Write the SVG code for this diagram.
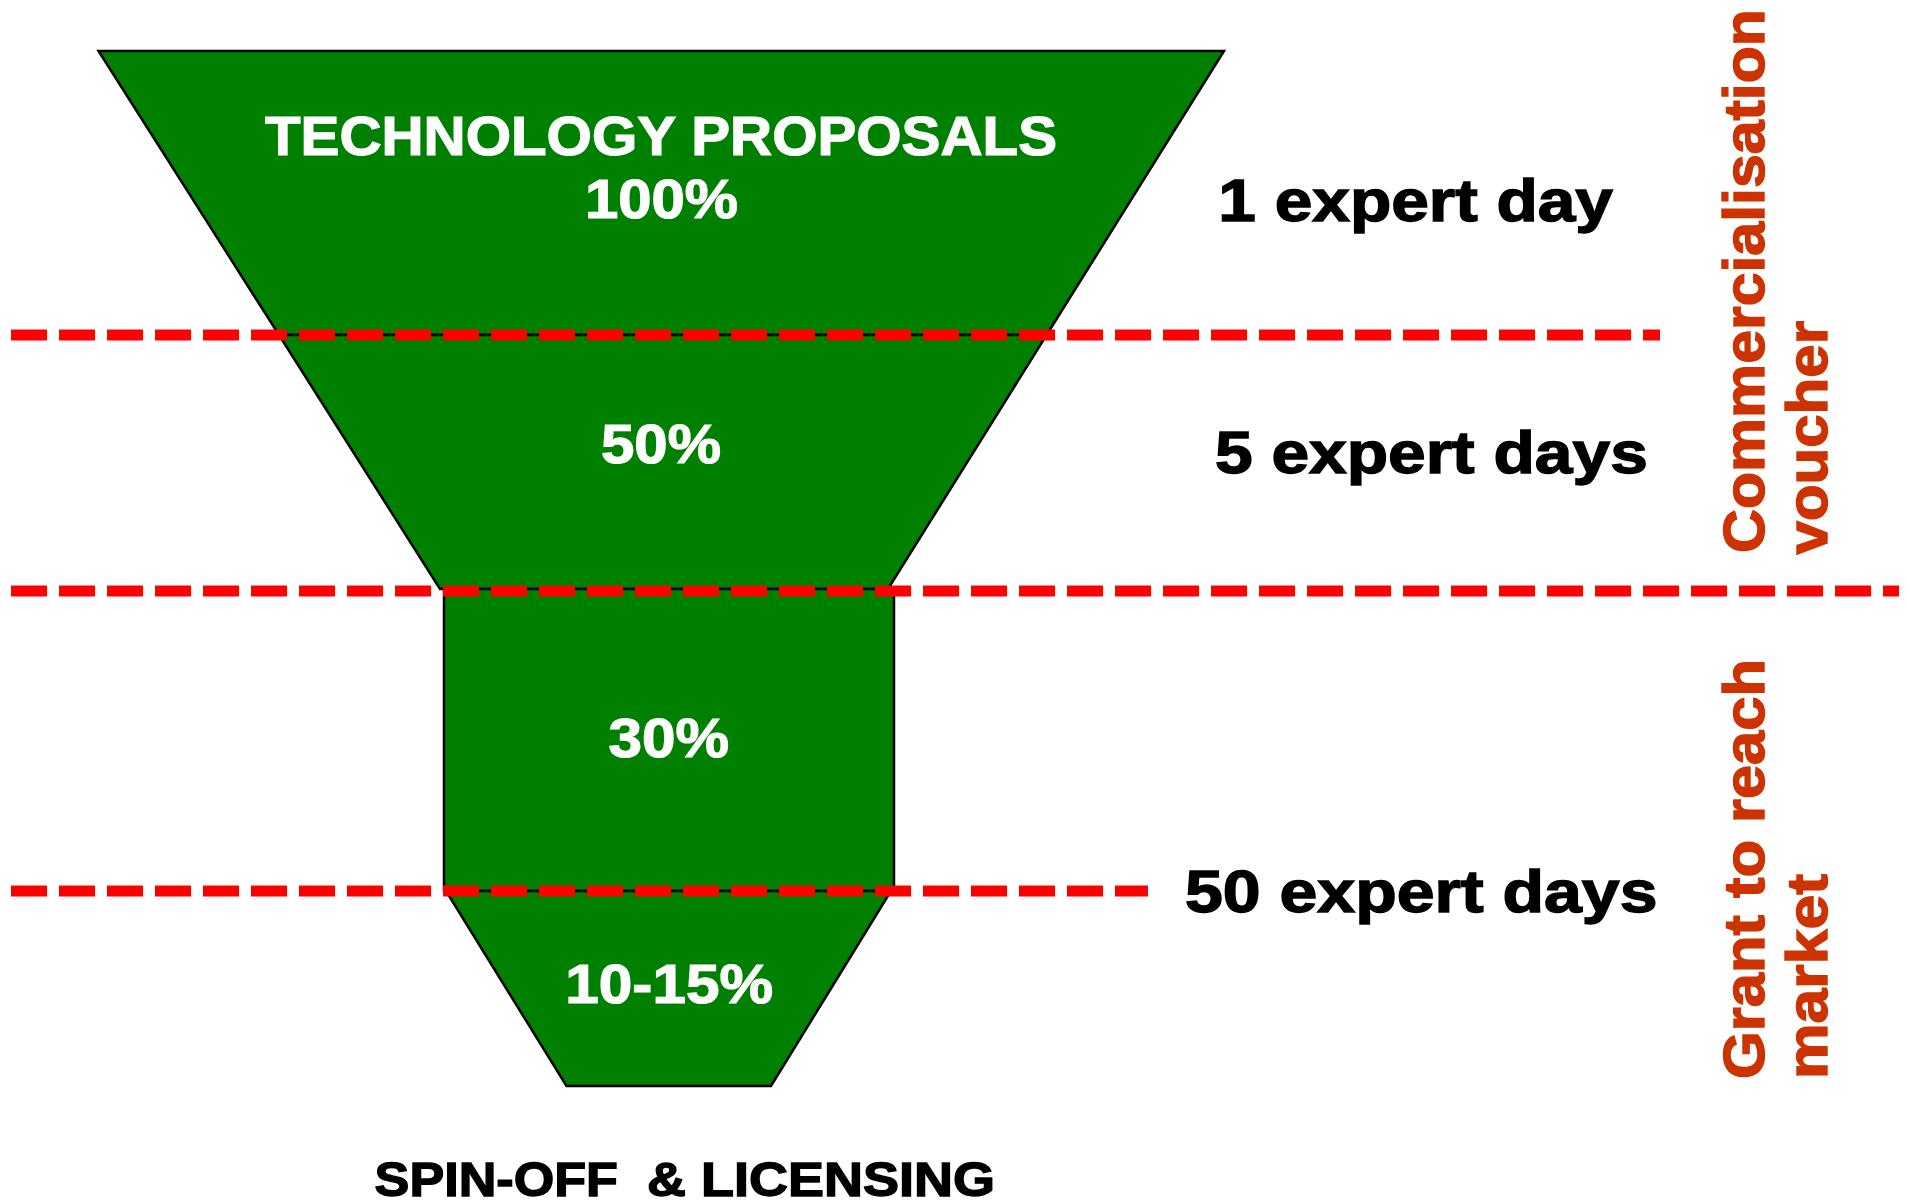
<svg xmlns="http://www.w3.org/2000/svg" width="1908" height="1204" viewBox="0 0 1908 1204">
  <style>
    .seg { fill: #008000; stroke: #000000; stroke-width: 2.5; stroke-linejoin: miter; }
    .pct { font-family: "Liberation Sans", Arial, sans-serif; font-weight: bold; fill: #ffffff; font-size: 55px; stroke: #ffffff; stroke-width: 1.2; }
    .lbl { font-family: "Liberation Sans", Arial, sans-serif; font-weight: bold; fill: #000000; font-size: 59px; stroke: #000000; stroke-width: 1.4; }
    .side { font-family: "Liberation Sans", Arial, sans-serif; font-weight: bold; fill: #CC3300; font-size: 57px; stroke: #CC3300; stroke-width: 1.4; }
    .dash { fill: none; stroke: #FF0000; stroke-width: 11; stroke-dasharray: 36 12; }
  </style>
  <rect x="0" y="0" width="1908" height="1204" fill="#ffffff"/>

  <g id="stage-proposals">
    <polygon class="seg" points="98.5,51 1224,51 1046.6,335 279,335"/>
    <text class="pct" x="265" y="155" textLength="792" lengthAdjust="spacingAndGlyphs">TECHNOLOGY PROPOSALS</text>
    <text class="pct" x="585" y="218" textLength="153" lengthAdjust="spacingAndGlyphs">100%</text>
  </g>

  <g id="stage-50">
    <polygon class="seg" points="279,335 1046.6,335 888,589 440,589"/>
    <text class="pct" x="601" y="462.5" textLength="120" lengthAdjust="spacingAndGlyphs">50%</text>
  </g>

  <g id="stage-30">
    <rect class="seg" x="444" y="589" width="450" height="302"/>
    <text class="pct" x="608.6" y="756.5" textLength="120.5" lengthAdjust="spacingAndGlyphs">30%</text>
  </g>

  <g id="stage-10-15">
    <polygon class="seg" points="446,891 891,891 771,1086 566.5,1086"/>
    <text class="pct" x="565.3" y="1002.7" textLength="207.7" lengthAdjust="spacingAndGlyphs">10-15%</text>
  </g>

  <g id="connectors">
    <line class="dash" x1="11" y1="335" x2="1660" y2="335"/>
    <line class="dash" x1="11" y1="591" x2="1899" y2="591"/>
    <line class="dash" x1="11" y1="891" x2="1148" y2="891"/>
  </g>

  <g id="effort-1">
    <text class="lbl" x="1218.3" y="221" textLength="394.7" lengthAdjust="spacingAndGlyphs">1 expert day</text>
  </g>
  <g id="effort-5">
    <text class="lbl" x="1215" y="473.3" textLength="432.8" lengthAdjust="spacingAndGlyphs">5 expert days</text>
  </g>
  <g id="effort-50">
    <text class="lbl" x="1185" y="911.7" textLength="472.5" lengthAdjust="spacingAndGlyphs">50 expert days</text>
  </g>

  <g id="outcome">
    <text class="lbl" style="font-size:49px" y="1196"><tspan x="374.6" textLength="243.4" lengthAdjust="spacingAndGlyphs">SPIN-OFF</tspan><tspan x="647" textLength="348" lengthAdjust="spacingAndGlyphs">&amp; LICENSING</tspan></text>
  </g>

  <g id="phase-voucher">
    <text class="side" transform="translate(1763.5,553) rotate(-90)" x="0" y="0" textLength="544" lengthAdjust="spacingAndGlyphs">Commercialisation</text>
    <text class="side" transform="translate(1827,554.5) rotate(-90)" x="0" y="0" textLength="233.5" lengthAdjust="spacingAndGlyphs">voucher</text>
  </g>

  <g id="phase-grant">
    <text class="side" transform="translate(1763.5,1079) rotate(-90)" x="0" y="0" textLength="420" lengthAdjust="spacingAndGlyphs">Grant to reach</text>
    <text class="side" transform="translate(1827,1079) rotate(-90)" x="0" y="0" textLength="205" lengthAdjust="spacingAndGlyphs">market</text>
  </g>
</svg>
